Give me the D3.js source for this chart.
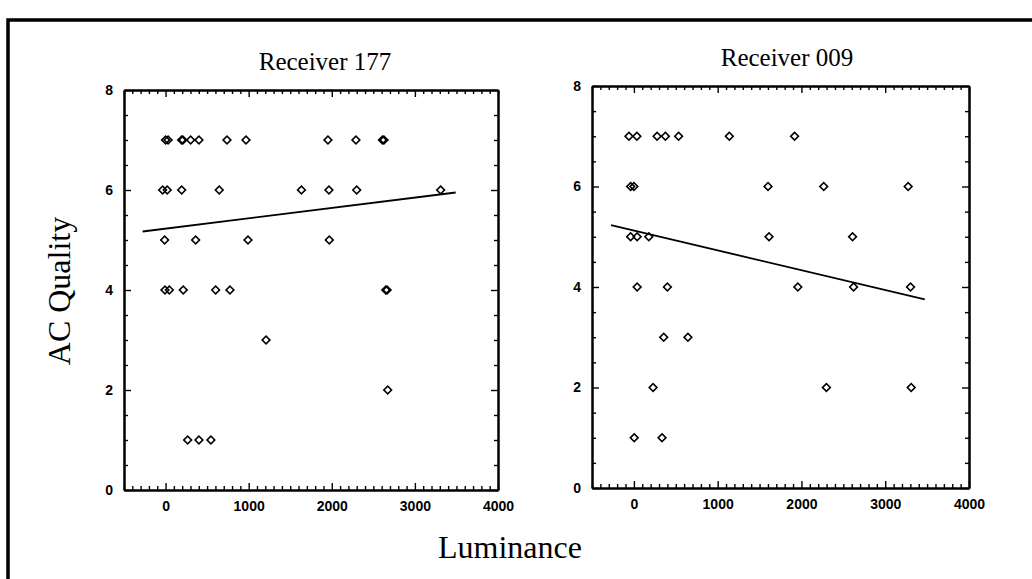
<!DOCTYPE html>
<html>
<head>
<meta charset="utf-8">
<script src="https://cdn.jsdelivr.net/npm/d3@7"></script>
<style>
  body { margin: 0; background: #fff; }
  svg { display: block; }
  .tick text { font-family: "Liberation Sans", Arial, sans-serif; font-weight: bold; font-size: 14px; }
</style>
</head>
<body>
<svg width="1032" height="579"></svg>
<script>
// Receiver 177
var lum177 = [0, 30, 194, 209, 302, 402, 739, 968, 1954, 2291, 2610, 2628,
              -35, 20, 194, 646, 1635, 1966, 2300, 3310,
              -11, 362, 992, 1970,
              -7, 45, 213, 603, 775, 2650, 2665,
              1209, 2673, 266, 402, 546]
var q177   = [7, 7, 7, 7, 7, 7, 7, 7, 7, 7, 7, 7,
              6, 6, 6, 6, 6, 6, 6, 6,
              5, 5, 5, 5,
              4, 4, 4, 4, 4, 4, 4,
              3, 2, 1, 1, 1]
var fit177 = [[-276, 5.17], [3491, 5.95]]

// Receiver 009
var lum009 = [-59, 36, 277, 376, 534, 1139, 1918,
              -39, 0, 1601, 2266, 3274,
              -39, 39, 178, 1613, 2610,
              39, 400, 1957, 2622, 3302,
              356, 645,
              229, 2298, 3310,
              4, 336]
var q009   = [7, 7, 7, 7, 7, 7, 7,
              6, 6, 6, 6, 6,
              5, 5, 5, 5, 5,
              4, 4, 4, 4, 4,
              3, 3,
              2, 2, 2,
              1, 1]
var fit009 = [[-273, 5.23], [3472, 3.755]]

var xMajor = [0, 1000, 2000, 3000, 4000]
var yMajor = [0, 2, 4, 6, 8]

var svg = d3.select('svg')

// frame
svg.append('path').attr('d', 'M8,579 L8,20 L1032,20')
  .attr('fill', 'none').attr('stroke', '#000').attr('stroke-width', 3.5)

var panels = [
  { title: 'Receiver 177', lum: lum177, q: q177, fit: fit177, x0: 124, x1: 498, y0: 90, y1: 490, tx: 325, ty: 70 },
  { title: 'Receiver 009', lum: lum009, q: q009, fit: fit009, x0: 592, x1: 969, y0: 86, y1: 488, tx: 787, ty: 66 }
]

panels.forEach(function (p) {
  var x = d3.scaleLinear().domain([-500, 4000]).range([p.x0, p.x1])
  var y = d3.scaleLinear().domain([0, 8]).range([p.y1, p.y0])
  var g = svg.append('g')

  var minorX = d3.range(-500, 4001, 100).filter(function (v) { return v % 1000 })
  var minorY = d3.range(0, 8.01, 0.5).filter(function (v) { return v % 2 })

  function ax(gen, tr, vals, size, fmt) {
    var a = g.append('g').attr('transform', tr)
      .call(gen.tickValues(vals).tickSizeInner(-size).tickSizeOuter(0).tickPadding(size + 4).tickFormat(fmt))
    a.select('.domain').attr('stroke-width', 2)
    a.selectAll('.tick line').attr('stroke-width', 1.4)
    return a
  }
  var none = function () { return '' }
  ax(d3.axisBottom(x), 'translate(0,' + p.y1 + ')', xMajor, 7, d3.format('d'))
  ax(d3.axisBottom(x), 'translate(0,' + p.y1 + ')', minorX, 4, none)
  ax(d3.axisTop(x), 'translate(0,' + p.y0 + ')', xMajor, 7, none)
  ax(d3.axisTop(x), 'translate(0,' + p.y0 + ')', minorX, 4, none)
  ax(d3.axisLeft(y), 'translate(' + p.x0 + ',0)', yMajor, 7, d3.format('d'))
  ax(d3.axisLeft(y), 'translate(' + p.x0 + ',0)', minorY, 4, none)
  ax(d3.axisRight(y), 'translate(' + p.x1 + ',0)', yMajor, 7, none)
  ax(d3.axisRight(y), 'translate(' + p.x1 + ',0)', minorY, 4, none)

  g.selectAll('.tick text').attr('fill', '#000')

  // regression line
  g.append('path')
    .attr('d', d3.line().x(function (d) { return x(d[0]) }).y(function (d) { return y(d[1]) })(p.fit))
    .attr('fill', 'none').attr('stroke', '#000').attr('stroke-width', 1.8)

  // points
  var sym = d3.symbol().type(d3.symbolSquare).size(30)
  g.selectAll('.pt').data(p.lum).enter().append('path')
    .attr('class', 'pt')
    .attr('d', sym)
    .attr('transform', function (d, i) { return 'translate(' + x(d) + ',' + y(p.q[i]) + ') rotate(45)' })
    .attr('fill', 'none').attr('stroke', '#000').attr('stroke-width', 1.6)

  svg.append('text').text(p.title)
    .attr('x', p.tx).attr('y', p.ty).attr('text-anchor', 'middle')
    .style('font-family', '"Liberation Serif", "Times New Roman", serif').style('font-size', '25px')
})

svg.append('text').text('AC Quality')
  .attr('transform', 'translate(70,291) rotate(-90)').attr('text-anchor', 'middle')
  .style('font-family', '"Liberation Serif", "Times New Roman", serif').style('font-size', '32px')

svg.append('text').text('Luminance')
  .attr('x', 510).attr('y', 558).attr('text-anchor', 'middle')
  .style('font-family', '"Liberation Serif", "Times New Roman", serif').style('font-size', '32px')
</script>
</body>
</html>
